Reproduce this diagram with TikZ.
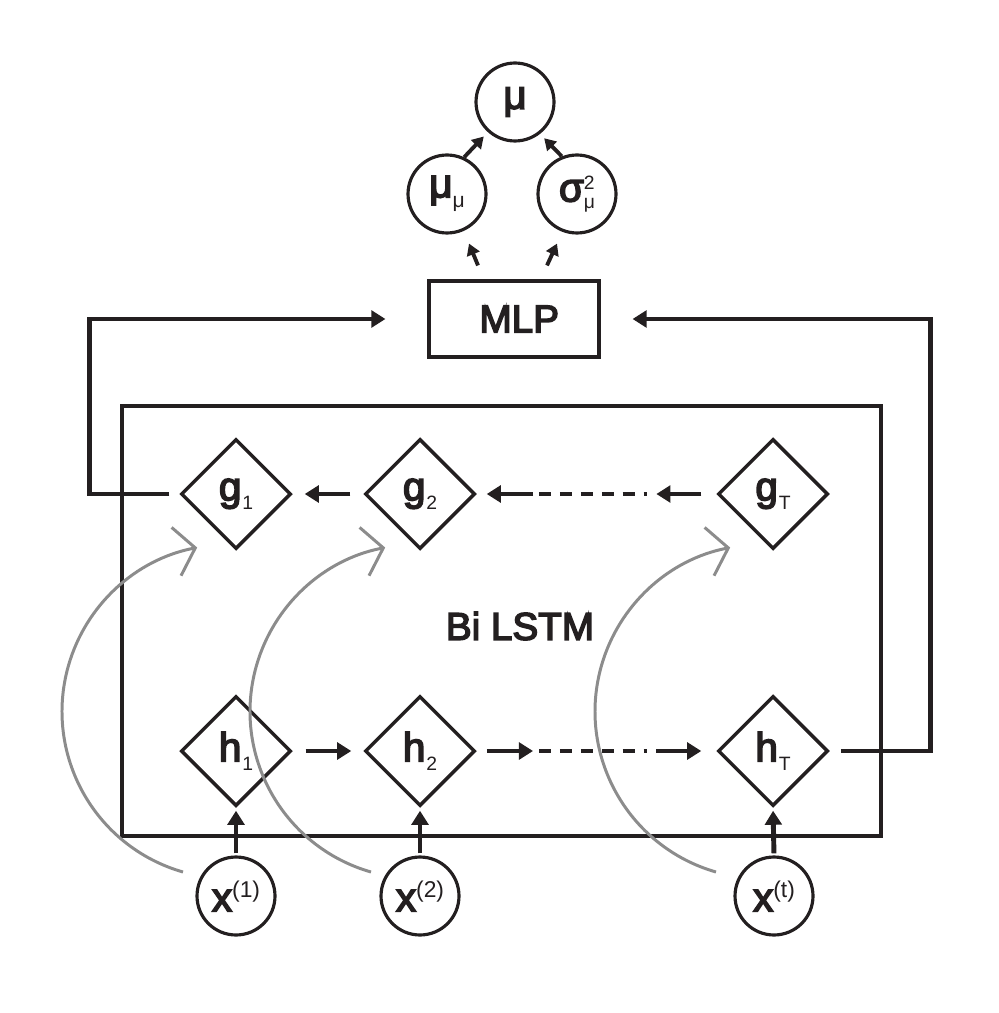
\documentclass[tikz,border=0pt]{standalone}
\usepackage{fontspec}
\setmainfont{Liberation Sans}
\newfontfamily\labfont{Liberation Sans}[FakeBold=4]
\usepackage{tikz}
\usetikzlibrary{positioning}
\usetikzlibrary{shapes.geometric}
\usetikzlibrary{arrows.meta}
\definecolor{ink}{HTML}{231F20}
\definecolor{curvegray}{HTML}{8C8C8C}
\newcommand{\lowidx}[2]{#1\kern0.5pt\raisebox{-5pt}{\normalfont\fontsize{11}{11}\selectfont #2}}
\newcommand{\upidx}[2]{#1\raisebox{8pt}{\normalfont\fontsize{13}{13}\selectfont #2}}
\tikzset{
  cell/.style={diamond, draw=ink, line width=2pt, minimum size=2.2cm, inner sep=0pt,
    text=ink, font=\labfont\fontsize{23}{23}\selectfont},
  var/.style={circle, draw=ink, line width=1.8pt, minimum size=1.56cm, inner sep=0pt,
    text=ink, font=\labfont\fontsize{23}{23}\selectfont},
  arr/.style={ink, line width=2.8pt, -{Triangle[length=8pt,width=9.5pt]}},
  sarr/.style={ink, line width=2.2pt, -{Triangle[length=6.5pt,width=7.5pt]}},
  dotline/.style={ink, line width=2.5pt, dash pattern=on 6.8pt off 5.1pt},
  skip/.style={curvegray, line width=1.7pt, -{Straight Barb[length=11pt,width=28pt]}},
}

\begin{document}
\begin{tikzpicture}[x=0.02cm, y=-0.02cm]
\useasboundingbox (0,0) rectangle (998,1013);
% output side
\node[var] (mu) at (515,102) {μ};
\node[var] (mumu) at (447,194) {μ\raisebox{-6pt}{\normalfont\fontsize{12}{12}\selectfont μ}};
\node[var] (sig) at (577,194) {σ\raisebox{-4pt}{\normalfont\fontsize{11}{11}\selectfont
  \vbox{\baselineskip=11pt\hbox{2}\hbox{μ}}}};
\node[draw=ink, line width=1.8pt, minimum width=3.4cm, minimum height=1.52cm,
  text=ink, font=\labfont\fontsize{22}{22}\selectfont] (mlp) at (514,319) {\hspace{6pt}MLP};
% recurrent part
\draw[ink, line width=1.8pt] (122,406) rectangle (881,836);
\node[text=ink, font=\labfont\fontsize{22}{22}\selectfont] (bilstm) at (520,626) {Bi LSTM};
\node[cell] (g1) at (236,494) {\lowidx{g}{1}};
\node[cell] (g2) at (420,494) {\lowidx{g}{2}};
\node[cell] (gT) at (773,494) {\lowidx{g}{T}};
\node[cell] (h1) at (236,751) {\lowidx{h}{1}};
\node[cell] (h2) at (420,751) {\lowidx{h}{2}};
\node[cell] (hT) at (773,751) {\lowidx{h}{T}};
\node[var] (x1) at (236,896) {\upidx{x}{(1)}};
\node[var] (x2) at (420,896) {\upidx{x}{(2)}};
\node[var] (xT) at (774,896) {\upidx{x}{(t)}};

\foreach \i in {1,2,T} {
\draw[arr, shorten <=0.04cm, shorten >=0.06cm] (x\i.north) -- (h\i.south);
}
\foreach \n/\dx in {x1/-53, x2/-49, xT/-58} {
\draw[skip] ([shift={(\dx,-24)}]\n.center) arc[start angle=106, end angle=259, radius=167];
}

% forward chain
\draw[arr, shorten <=0.26cm, shorten >=0.24cm] (h1.east) -- (h2.west);
\path (h2.east) -- (hT.west) coordinate[pos=0.235] (ha) coordinate[pos=0.75] (hb);
\draw[arr, shorten <=0.2cm] (h2.east) -- (ha);
\draw[dotline, shorten <=0.12cm, shorten >=0.18cm] (ha) -- (hb);
\draw[arr, shorten >=0.3cm] (hb) -- (hT.west);
% backward chain
\draw[arr, shorten <=0.26cm, shorten >=0.24cm] (g2.west) -- (g1.east);
\path (gT.west) -- (g2.east) coordinate[pos=0.25] (ga) coordinate[pos=0.765] (gb);
\draw[arr, shorten <=0.3cm] (gT.west) -- (ga);
\draw[dotline, shorten <=0.12cm, shorten >=0.18cm] (gb) -- (ga);
\draw[arr, shorten >=0.2cm] (gb) -- (g2.east);

% into the MLP
\draw[arr, shorten <=0.2cm, shorten >=0.84cm] (g1.west) -- ++(-90,0) |- (mlp.west);
\draw[arr, shorten <=0.22cm, shorten >=0.64cm] (hT.east) -- ++(101,0) |- (mlp.east);
\draw[sarr] ([shift={(-36,-14)}]mlp.north) -- ([shift={(22,9)}]mumu.south);
\draw[sarr] ([shift={(33,-14)}]mlp.north) -- ([shift={(-20,9)}]sig.south);
\draw[sarr, shorten >=0.12cm] (mumu.65) -- (mu.228);
\draw[sarr, shorten >=0.12cm] (sig.112) -- (mu.308);
\end{tikzpicture}
\end{document}
